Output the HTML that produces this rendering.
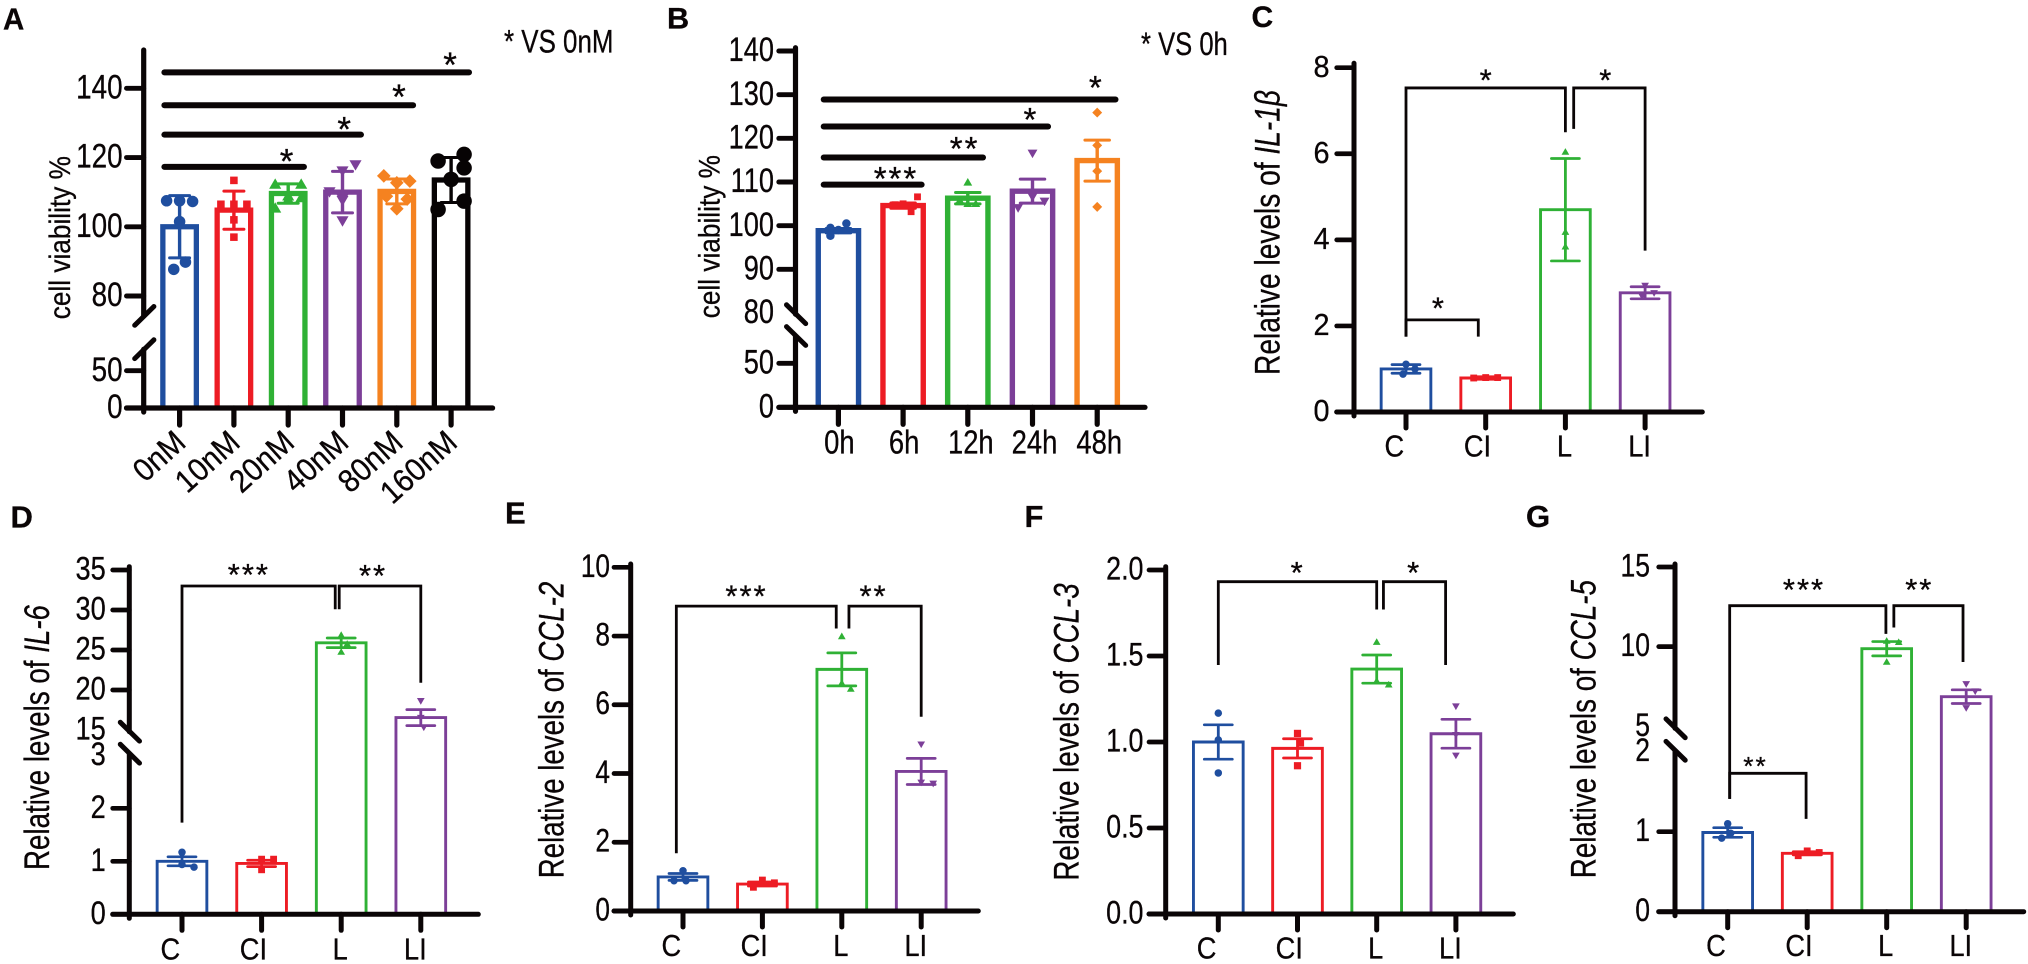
<!DOCTYPE html>
<html lang="en">
<head>
<meta charset="utf-8">
<title>Cell viability and relative cytokine levels</title>
<style>
html,body{margin:0;padding:0;background:#fff;}
svg{display:block;font-family:"Liberation Sans",Arial,sans-serif;fill:#0a0506;}
svg text{stroke:#0a0506;stroke-width:.3;}
</style>
</head>
<body>
<svg id="figure" width="2028" height="964" viewBox="0 0 2028 964" xmlns="http://www.w3.org/2000/svg">
  <rect width="2028" height="964" fill="#ffffff"/>
  <text transform="translate(3,29.3) scale(.95,1)" font-size="31" font-weight="bold">A</text>
  <text transform="translate(667,28.3) scale(1.02,1)" font-size="30" font-weight="bold">B</text>
  <text x="1251.5" y="27" font-size="30" font-weight="bold">C</text>
  <text x="10.5" y="527.3" font-size="31" font-weight="bold">D</text>
  <text x="505" y="523.3" font-size="31" font-weight="bold">E</text>
  <text x="1024.5" y="527" font-size="31" font-weight="bold">F</text>
  <text x="1526" y="527" font-size="31" font-weight="bold">G</text>
  <text transform="translate(504,52.7) scale(.81,1)" font-size="32">* VS 0nM</text>
  <text transform="translate(1141,55) scale(.8,1)" font-size="32">* VS 0h</text>
  <g id="panelA"></g>
  <g id="panelB"></g>
  <g id="panelC"></g>
  <g id="panelD"></g>
  <g id="panelE"></g>
  <g id="panelF"></g>
  <g id="panelG"></g>
</svg>
<script>
/* ---------- Panel A data ---------- */
const aCategories = ['0nM','10nM','20nM','40nM','80nM','160nM'];
const aMeans = [100,104.8,109.6,110,110.2,113.5];
const aErrors = [9,5.5,2.8,6,3.6,6.5];
const aPoints = [
  [107.5,107.5,107.3,101.5,89.8,87.7],
  [113.4,106.5,106.5,106.5,102,97],
  [112.4,112.4,109,108.5,108,105.5],
  [117.8,116,110,108,107.5,101.6],
  [114.7,113.2,112.7,108.8,108,105.2],
  [120.9,119,117,113.7,107.4,105]
];
const aTicks = [0,50,80,100,120,140];
const aSigLines = [
  {from:-.28,to:2.29,value:117.3},
  {from:-.28,to:3.34,value:126.6},
  {from:-.28,to:4.3,value:135.1},
  {from:-.28,to:5.33,value:144.6}
];
const aStars = [
  {cat:1.97,value:121.3,label:'*'},
  {cat:3.03,value:130.5,label:'*'},
  {cat:4.04,value:140,label:'*'},
  {cat:4.98,value:149.2,label:'*'}
];

/* ---------- Panel B data ---------- */
const bCategories = ['0h','6h','12h','24h','48h'];
const bMeans = [98.85,104.6,106.3,107.9,114.9];
const bErrors = [.5,.6,1.3,2.75,4.7];
const bPoints = [
  [100.5,99.5,99,97.7],
  [106.6,105,104.8,103.2],
  [110,105.9,105.1,105.1],
  [116.5,106.5,105.5,104],
  [125.9,118.4,112.5,104.3]
];
const bTicks = [0,50,80,90,100,110,120,130,140];
const bSigLines = [
  {from:-.227,to:1.286,value:109.4},
  {from:-.227,to:2.235,value:115.6},
  {from:-.227,to:3.24,value:122.7},
  {from:-.227,to:4.283,value:128.9}
];
const bStars = [
  {cat:.89,value:112.6,label:'***'},
  {cat:1.95,value:119.5,label:'**'},
  {cat:2.96,value:126.1,label:'*'},
  {cat:3.97,value:133.4,label:'*'}
];

/* ---------- Shared categories for the qPCR panels ---------- */
const qpcrCategories = ['C','CI','L','LI'];

/* ---------- Panel C data ---------- */
const cMeans = [1,.79,4.7,2.77];
const cErrors = [.1,.03,1.19,.14];
const cPoints = [[1.11,1,.88],[.8,.8,.79],[6.05,4.19,3.85],[2.93,2.76,2.68]];
const cTicks = [0,2,4,6,8];
const cBrackets = [
  {from:0,to:2,top:7.53,leftEnd:1.75,rightEnd:6.5},
  {from:2.104,to:3,top:7.53,leftEnd:6.58,rightEnd:3.75},
  {from:0,to:.907,top:2.14,leftEnd:1.75,rightEnd:1.75}
];
const cStars = [
  {cat:1,value:7.89,label:'*'},
  {cat:2.5,value:7.89,label:'*'},
  {cat:.4,value:2.59,label:'*'}
];

/* ---------- Panel D data ---------- */
const dMeans = [1,.96,25.9,16.55];
const dErrors = [.085,.06,.6,1];
const dPoints = [[1.17,.94,.89],[1.04,1.04,.84],[26.9,25.8,24.8],[18.6,16.5,15.3]];
const dTicks = [0,1,2,3,15,20,25,30,35];
const dBrackets = [
  {from:0,to:1.925,top:33,leftEnd:1.73,rightEnd:30.1},
  {from:1.975,to:3,top:33,leftEnd:30.1,rightEnd:20.9}
];
const dStars = [
  {cat:.84,value:35.4,label:'***'},
  {cat:2.4,value:35.25,label:'**'}
];

/* ---------- Panel E data ---------- */
const eMeans = [.99,.785,7.03,4.06];
const eErrors = [.1,.06,.48,.38];
const ePoints = [[1.17,.88,.88],[.9,.82,.69],[8,6.64,6.47],[4.84,3.73,3.7]];
const eTicks = [0,2,4,6,8,10];
const eBrackets = [
  {from:-.084,to:1.93,top:8.87,leftEnd:1.68,rightEnd:8.22},
  {from:2.09,to:3,top:8.87,leftEnd:8.22,rightEnd:5.65}
];
const eStars = [
  {cat:.8,value:9.39,label:'***'},
  {cat:2.4,value:9.39,label:'**'}
];

/* ---------- Panel F data ---------- */
const fMeans = [1,.963,1.424,1.048];
const fErrors = [.1,.056,.082,.084];
const fPoints = [[1.168,1.012,.82],[1.05,.994,.862],[1.583,1.357,1.335],[1.206,1.04,.92]];
const fTicks = [0,.5,1,1.5,2];
const fTickLabels = ['0.0','0.5','1.0','1.5','2.0'];
const fBrackets = [
  {from:0,to:2,top:1.932,leftEnd:1.448,rightEnd:1.77},
  {from:2.085,to:2.87,top:1.932,leftEnd:1.77,rightEnd:1.448}
];
const fStars = [
  {cat:.99,value:2.03,label:'*'},
  {cat:2.46,value:2.03,label:'*'}
];

/* ---------- Panel G data ---------- */
const gMeans = [.99,.73,9.87,6.86];
const gErrors = [.06,.02,.45,.43];
const gPoints = [[1.1,.98,.92],[.76,.74,.7],[10.38,10.3,9.06],[7.64,7.18,6.13]];
const gTicks = [0,1,2,5,10,15];
const gBrackets = [
  {from:.025,to:1.99,top:12.57,leftEnd:1.41,rightEnd:10.8},
  {from:2.09,to:2.96,top:12.57,leftEnd:11.2,rightEnd:9.04},
  {from:.025,to:.986,top:1.73,leftEnd:1.41,rightEnd:1.16}
];
const gStars = [
  {cat:.96,value:14.08,label:'***'},
  {cat:2.41,value:14.08,label:'**'},
  {cat:.35,value:1.9,label:'**',small:true}
];

/* ---------- Drawing ---------- */
const NS = 'http://www.w3.org/2000/svg';
const INK = '#0a0506';
const COLORS = ['#1f4e9f','#ed1c24','#2fb135','#7c3f98','#f58220','#070304'];
const SHAPES = ['circle','square','up','down','diamond','circle'];

function mk(parent, tag, attrs){
  const node = document.createElementNS(NS, tag);
  for (const k in attrs) node.setAttribute(k, attrs[k]);
  parent.appendChild(node);
  return node;
}

function makeYScale(segments){
  return function(v){
    let seg = segments[0];
    for (const s of segments) if (v >= s.d[0]) seg = s;
    return seg.r[0] + (v - seg.d[0]) * (seg.r[1] - seg.r[0]) / (seg.d[1] - seg.d[0]);
  };
}

function makeXScale(first, step){
  return function(i){ return first + i * step; };
}

/* Text placed through a transform; if targetLen is set the run is stretched to that length. */
function placeText(parent, parts, o){
  const t = mk(parent, 'text', {'font-size':o.size, 'text-anchor':o.anchor || 'middle'});
  if (o.spacing) t.setAttribute('letter-spacing', o.spacing);
  for (const p of parts){
    const s = mk(t, 'tspan', {});
    if (p[1]) s.setAttribute('font-style', 'italic');
    s.textContent = p[0];
  }
  let sx = o.scale || 1;
  if (o.targetLen) sx = o.targetLen / t.getComputedTextLength();
  t.setAttribute('transform', 'translate(' + o.x + ',' + o.y + ') rotate(' + (o.rotate || 0) + ') scale(' + sx + ',1)');
  return t;
}

function drawMarker(parent, shape, x, y, s, color){
  let el;
  if (shape === 'circle'){
    el = mk(parent, 'circle', {cx:x, cy:y, r:s/2, fill:color});
  } else if (shape === 'square'){
    const a = s * .72;
    el = mk(parent, 'rect', {x:x-a/2, y:y-a/2, width:a, height:a, fill:color});
  } else {
    let pts;
    if (shape === 'up') pts = [[x,y-s*.5],[x+s*.55,y+s*.45],[x-s*.55,y+s*.45]];
    else if (shape === 'down') pts = [[x,y+s*.5],[x+s*.55,y-s*.45],[x-s*.55,y-s*.45]];
    else pts = [[x,y-s*.62],[x+s*.62,y],[x,y+s*.62],[x-s*.62,y]];
    el = mk(parent, 'polygon', {points:pts.map(p => p.join(',')).join(' '), fill:color});
  }
  
  
  return el;
}

/* Spreads replicate points sideways only where they would overlap. */
function swarm(ys, minDist, step){
  const placed = [];
  const offsets = [];
  for (const y of ys){
    let k = 0, off = 0;
    while (true){
      off = k === 0 ? 0 : (k % 2 ? 1 : -1) * Math.ceil(k / 2) * step;
      const hit = placed.some(p => Math.hypot(p[0] - off, p[1] - y) < minDist);
      if (!hit || k > 30) break;
      k++;
    }
    placed.push([off, y]);
    offsets.push(off);
  }
  return offsets;
}

function drawPanel(id, c){
  const g = document.getElementById(id);
  const Y = makeYScale(c.segments);
  const X = makeXScale(c.firstCenter, c.step);
  const base = Y(0);

  /* bars, error bars, points */
  c.categories.forEach((cat, i) => {
    const color = COLORS[i];
    const cx = X(i);
    const half = (c.barWidth - c.barStroke) / 2;
    const bar = mk(g, 'path', {d:'M' + (cx-half) + ',' + base + 'V' + Y(c.means[i]) + 'H' + (cx+half) + 'V' + base,
      fill:'none', stroke:color, 'stroke-width':c.barStroke});
    
    

    const hi = Y(c.means[i] + c.errors[i]);
    const lo = Y(c.means[i] - c.errors[i]);
    const err = mk(g, 'path', {d:'M' + cx + ',' + hi + 'V' + lo, fill:'none', stroke:color, 'stroke-width':c.errStroke});
    
    
    [hi, lo].forEach(yy => {
      const cap = mk(g, 'path', {d:'M' + (cx-c.capWidth/2) + ',' + yy + 'H' + (cx+c.capWidth/2), fill:'none', stroke:color, 'stroke-width':c.capStroke, 'stroke-linecap':'round'});
      
      
    });

    const ys = c.points[i].map(Y);
    const size = c.markerSizes[i];
    const offs = c.columns ? ys.map((_, k) => (c.columns[i][k] || 0) * c.columnGap) : swarm(ys, c.minDist, c.swarmStep);
    ys.forEach((yy, k) => drawMarker(g, SHAPES[i], cx + offs[k], yy, size, color));
  });

  /* y axis */
  const axBottom = base + 4;
  let axD = 'M' + c.axisX + ',' + c.axisTop;
  if (c.breakAt){
    axD += 'V' + c.breakAt[0] + 'M' + c.axisX + ',' + c.breakAt[1] + 'V' + axBottom;
  } else {
    axD += 'V' + axBottom;
  }
  const yAxis = mk(g, 'path', {d:axD, fill:'none', stroke:INK, 'stroke-width':c.axisStroke, 'stroke-linecap':'round'});
  
  

  if (c.breakAt){
    c.breakAt.forEach(by => {
      const dx = 9.6, dy = 9.4 * c.breakDir;
      const slash = mk(g, 'line', {x1:c.axisX-dx+.6, y1:by+dy, x2:c.axisX+dx+.6, y2:by-dy, stroke:INK, 'stroke-width':5, 'stroke-linecap':'round'});
      
      
    });
  }

  /* x axis */
  const xAxis = mk(g, 'line', {x1:c.axisLeft, y1:base, x2:c.axisRight, y2:base, stroke:INK, 'stroke-width':c.axisStroke, 'stroke-linecap':'round'});
  
  

  /* y ticks and labels */
  c.ticks.forEach((v, i) => {
    const y = Y(v);
    if (!(c.unmarkedTicks || []).includes(v)){
      const tk = mk(g, 'line', {x1:c.axisLeft, y1:y, x2:c.axisX, y2:y, stroke:INK, 'stroke-width':c.axisStroke-.3, 'stroke-linecap':'round'});
      
      
    }
    const text = c.tickLabels ? c.tickLabels[i] : String(v);
    const lab = placeText(g, [[text]], {x:c.tickRight, y:y - 2 + .358 * c.tickSize, size:c.tickSize, anchor:'end', scale:c.tickScale});
    
    
  });

  /* x ticks and labels */
  c.categories.forEach((cat, i) => {
    const x = X(i);
    const tk = mk(g, 'line', {x1:x, y1:base, x2:x, y2:base + c.xTickLen, stroke:INK, 'stroke-width':c.axisStroke, 'stroke-linecap':'round'});
    
    
    let lab;
    if (c.xRotate){
      lab = placeText(g, [[cat]], {x:x + 8, y:c.xBaseline, size:c.xSize, anchor:'end', rotate:c.xRotate, scale:c.xScale});
    } else {
      lab = placeText(g, [[cat]], {x:x + c.xNudges[i], y:c.xBaseline, size:c.xSize, scale:c.xScale});
    }
    
    
  });

  /* y axis title */
  const title = placeText(g, c.title, {x:c.titleX, y:(c.titleY[0] + c.titleY[1]) / 2, size:c.titleSize, rotate:-90, targetLen:c.titleY[1] - c.titleY[0]});
  
  

  /* significance annotations */
  (c.sigLines || []).forEach(s => {
    const ln = mk(g, 'line', {x1:X(s.from), y1:Y(s.value), x2:X(s.to), y2:Y(s.value), stroke:INK, 'stroke-width':6, 'stroke-linecap':'round'});
    
    
  });
  (c.brackets || []).forEach(b => {
    const br = mk(g, 'path', {d:'M' + X(b.from) + ',' + Y(b.leftEnd) + 'V' + Y(b.top) + 'H' + X(b.to) + 'V' + Y(b.rightEnd), fill:'none', stroke:INK, 'stroke-width':2.8});
    
    
  });
  (c.stars || []).forEach(s => {
    const size = s.small ? c.starSize * .85 : c.starSize;
    const st = placeText(g, [[s.label]], {x:X(s.cat), y:Y(s.value) + .585 * size, size:size, spacing:s.label.length > 1 ? 2 : 0});
    
    
  });
}

const qpcrStyle = {
  barWidth:52.6, barStroke:2.9, errStroke:2.8, capStroke:2.7, capWidth:28, axisStroke:5,
  minDist:10, swarmStep:3, xTickLen:16, xNudges:[-11.7,-8.2,-1,-5.5],
  tickSize:32, xSize:31, xScale:.88, titleSize:35, starSize:31, breakDir:-1
};

drawPanel('panelA', {
  categories:aCategories, means:aMeans, errors:aErrors, points:aPoints, ticks:aTicks,
  segments:[{d:[0,50],r:[408,370.7]},{d:[80,140],r:[296,88.3]}],
  axisX:143.7, axisTop:50, axisLeft:126.5, axisRight:492.6, axisStroke:5.2,
  breakAt:[315.9,349.2], breakDir:1,
  firstCenter:179.6, step:54.3, barWidth:38.8, barStroke:5.3, errStroke:3.4, capStroke:3, capWidth:20,
  markerSizes:[11.5,10.5,11,11,11,15.5],
  columnGap:13,
  columns:[[-1,0,1,0,.45,-.45],[0,-1,0,1,0,0],[-1,1,0,1,0,-1],[1,0,-1,0,0,0],[-1,1,0,-.8,.8,0],[1,-1,1,0,1,-1]],
  tickSize:34, tickScale:.82, tickRight:122.6, xTickLen:17,
  xBaseline:445, xSize:32, xRotate:-42, xScale:.92,
  title:[['cell viability %']], titleX:70.2, titleY:[156,319.3], titleSize:30,
  sigLines:aSigLines, stars:aStars, starSize:35
});

drawPanel('panelB', {
  categories:bCategories, means:bMeans, errors:bErrors, points:bPoints, ticks:bTicks, unmarkedTicks:[80],
  segments:[{d:[0,50],r:[407.3,363.3]},{d:[80,140],r:[313,51]}],
  axisX:795.5, axisTop:47.7, axisLeft:778.8, axisRight:1145, axisStroke:5.2,
  breakAt:[314.2,336], breakDir:-1,
  firstCenter:838.4, step:64.7, barWidth:45.7, barStroke:5.4, errStroke:3.4, capStroke:3, capWidth:24.5,
  markerSizes:[8.5,9.5,8,9,8],
  columnGap:8,
  columns:[[1,-1,0,-1],[1.8,0,-1,1],[0,-1,0,1],[0,0,1.5,-1.8],[0,0,0,0]],
  tickSize:34, tickScale:.8, tickRight:774, xTickLen:17,
  xBaseline:453.3, xSize:33, xScale:.83, xNudges:[1,1,3,2,2],
  title:[['cell viability %']], titleX:719.6, titleY:[155,318.3], titleSize:30,
  sigLines:bSigLines, stars:bStars, starSize:33
});

drawPanel('panelC', Object.assign({}, qpcrStyle, {
  categories:qpcrCategories, means:cMeans, errors:cErrors, points:cPoints, ticks:cTicks,
  segments:[{d:[0,8],r:[412,67.7]}],
  axisX:1354, axisTop:63.3, axisLeft:1336.7, axisRight:1702.3,
  firstCenter:1406, step:79.7, markerSizes:[7.5,9.5,7,7],
  tickRight:1329.5, tickSize:31, tickScale:.93, xBaseline:456.7,
  title:[['Relative levels of '],['IL-1β',true]], titleX:1279.3, titleY:[90,375],
  brackets:cBrackets, stars:cStars
}));

drawPanel('panelD', Object.assign({}, qpcrStyle, {
  categories:qpcrCategories, means:dMeans, errors:dErrors, points:dPoints, ticks:dTicks, unmarkedTicks:[3,15],
  segments:[{d:[0,3],r:[914.3,755.3]},{d:[15,35],r:[730,570]}],
  axisX:129.3, axisTop:566.7, axisLeft:112.7, axisRight:478.3,
  breakAt:[731.7,753.7],
  firstCenter:182, step:79.6, markerSizes:[7.5,9.5,7,7],
  tickRight:105.7, tickScale:.85, xBaseline:959.3,
  title:[['Relative levels of '],['IL-6',true]], titleX:49, titleY:[605,870],
  brackets:dBrackets, stars:dStars
}));

drawPanel('panelE', Object.assign({}, qpcrStyle, {
  categories:qpcrCategories, means:eMeans, errors:eErrors, points:ePoints, ticks:eTicks,
  segments:[{d:[0,10],r:[911,567.3]}],
  axisX:630.7, axisTop:564, axisLeft:614, axisRight:978.3,
  firstCenter:683, step:79.4, markerSizes:[7.5,9.5,7,7],
  tickRight:610, tickScale:.82, xBaseline:956,
  title:[['Relative levels of '],['CCL-2',true]], titleX:563.3, titleY:[581.7,878.3],
  brackets:eBrackets, stars:eStars
}));

drawPanel('panelF', Object.assign({}, qpcrStyle, {
  categories:qpcrCategories, means:fMeans, errors:fErrors, points:fPoints, ticks:fTicks, tickLabels:fTickLabels,
  segments:[{d:[0,2],r:[914,570]}],
  axisX:1165.7, axisTop:566.7, axisLeft:1149, axisRight:1513.3,
  firstCenter:1218.3, step:79.2, markerSizes:[7.5,10,7,7],
  tickRight:1143.5, tickScale:.84, xBaseline:958.3,
  title:[['Relative levels of '],['CCL-3',true]], titleX:1078.3, titleY:[583.3,880.7],
  brackets:fBrackets, stars:fStars
}));

drawPanel('panelG', Object.assign({}, qpcrStyle, {
  categories:qpcrCategories, means:gMeans, errors:gErrors, points:gPoints, ticks:gTicks, unmarkedTicks:[2,5],
  segments:[{d:[0,2],r:[911.7,751.7]},{d:[5,15],r:[726.3,567]}],
  axisX:1675, axisTop:564, axisLeft:1658.7, axisRight:2023.7,
  breakAt:[728.3,750.8],
  firstCenter:1727.7, step:79.5, markerSizes:[7.5,9.5,7,7],
  tickRight:1650, tickScale:.83, xBaseline:956,
  title:[['Relative levels of '],['CCL-5',true]], titleX:1595.7, titleY:[580,878.3],
  brackets:gBrackets, stars:gStars
}));
</script>
</body>
</html>
